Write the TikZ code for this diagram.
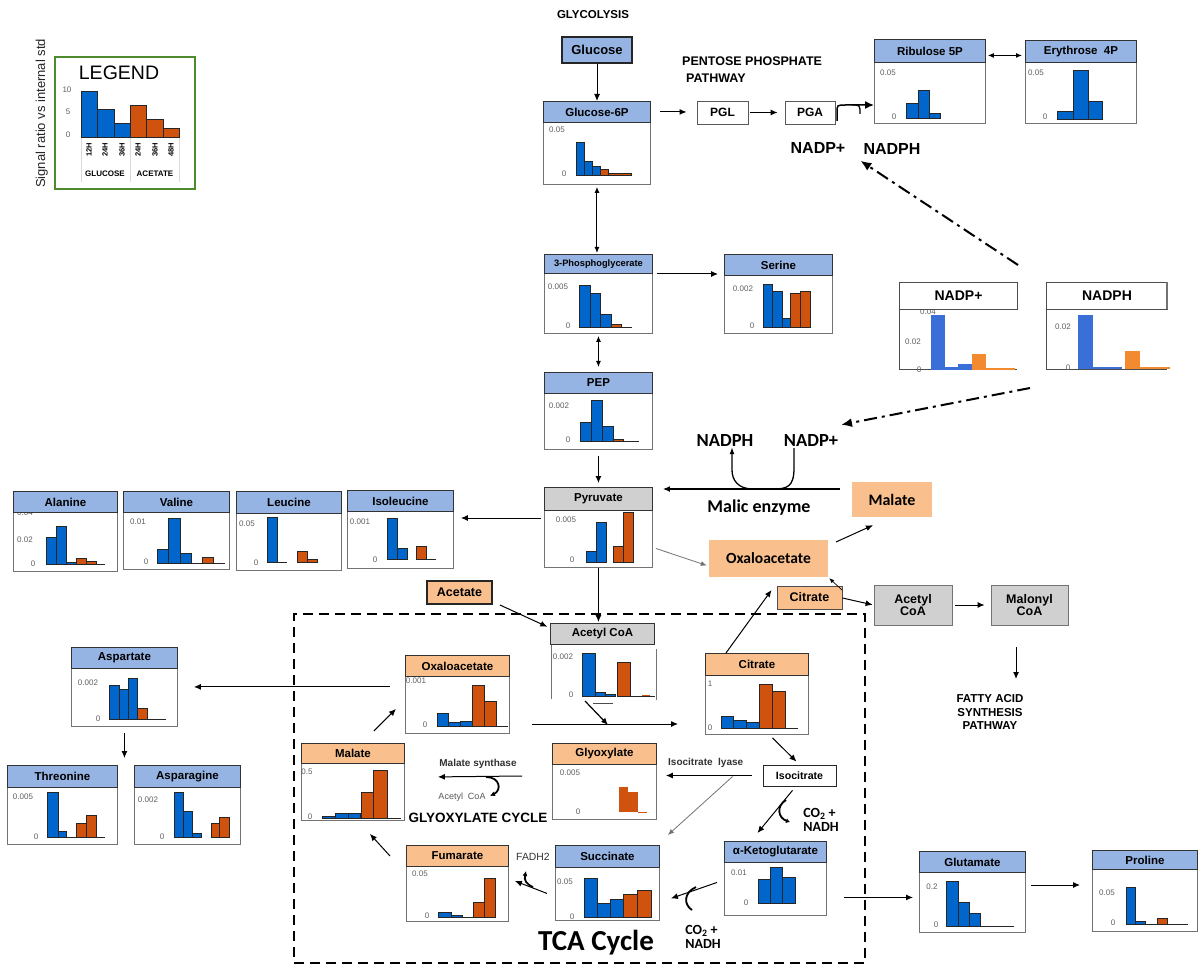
\documentclass[tikz,border=0pt]{standalone}
\usepackage{fontspec}
\setmainfont{Liberation Sans}
\newfontfamily\calfont{Carlito}
\usetikzlibrary{arrows.meta}
\definecolor{hblue}{HTML}{95B3E3}
\definecolor{horange}{HTML}{F9C08D}
\definecolor{hgray}{HTML}{D0D0D0}
\definecolor{barblue}{HTML}{0066CC}
\definecolor{barorange}{HTML}{D0520F}
\definecolor{lblue}{HTML}{3A6FD8}
\definecolor{lorange}{HTML}{F28A30}
\definecolor{tickgray}{HTML}{606060}
\definecolor{lgreen}{HTML}{4E8A2E}
\newcommand\fsz[1]{\fontsize{#1}{#1}\selectfont}
\tikzset{
 hdr/.style={draw=black!80, line width=0.9pt, inner sep=0pt, anchor=north west, font=\bfseries\fsz{11.5}},
 body/.style={draw=black!55, line width=0.9pt, fill=white, inner sep=0pt, anchor=north west},
 tick/.style={font=\fsz{8}, text=tickgray, inner sep=0pt},
 bbar/.style={fill=barblue, draw=black!85, line width=0.6pt},
 obar/.style={fill=barorange, draw=black!85, line width=0.6pt},
 flat/.style={draw=black!85, line width=0.8pt},
 arr/.style={-{Latex[length=7pt,width=6pt]}, line width=1pt},
 darr/.style={{Latex[length=6pt,width=5pt]}-{Latex[length=6pt,width=5pt]}, line width=1pt},
 garr/.style={-{Latex[length=6pt,width=5pt]}, line width=0.8pt, draw=black!55},
 plainbox/.style={inner sep=0pt, font=\bfseries\fsz{12.5}, align=center},
 dd/.style={line width=2pt, dash pattern=on 13pt off 5pt on 3pt off 5pt, -{Latex[length=11pt,width=9pt]}},
 hook/.style={line width=1.8pt}
}
\newcommand\cbox[8]{%
 \node[body, minimum width={#3-#2}, minimum height={#6-#5}] (#1) at (#2,#5) {};
 \node[hdr, fill=#7, minimum width={#3-#2}, minimum height={#5-#4}] (#1h) at (#2,#4) {#8};}
\newcommand\bB[4]{\filldraw[bbar] (#1,#4) rectangle (#2,#3);}
\newcommand\bO[4]{\filldraw[obar] (#1,#4) rectangle (#2,#3);}
\newcommand\bF[3]{\draw[flat] (#1,#3) -- (#2,#3);}
\newcommand\tk[3]{\node[tick] at (#1,#2) {#3};}
\begin{document}
\begin{tikzpicture}[x=1pt,y=-1pt]
\useasboundingbox (0,0) rectangle (1199,965);
\fill[white] (0,0) rectangle (1199,965);

% ---------------- Legend
\node[draw=lgreen, line width=1.6pt, minimum width=140, minimum height=132, anchor=north west, inner sep=0pt] (legend) at (54,56) {};
\node[font=\fsz{19.5}, inner sep=0pt] (legtitle) at (119,73) {LEGEND};
\node[rotate=90, anchor=base west, font=\fsz{13}, inner sep=0pt, text=black!85] (ylab) at (45,188) {Signal ratio vs internal std};
\tk{67}{90}{10} \tk{68}{112}{5} \tk{68}{135}{0}
\draw[black!15, line width=0.5pt] (81,137) -- (81,182) (130,137) -- (130,182) (179,137) -- (179,182);
\bB{81}{97}{91}{137} \bB{97}{114}{109}{137} \bB{114}{130}{123}{137}
\bO{130}{146}{105}{137} \bO{146}{163}{119}{137} \bO{163}{179}{128}{137}
\foreach \x/\t in {89/12H,105/24H,122/36H,138/24H,155/36H,171/48H}
  \node[rotate=90, font=\bfseries\fsz{7.5}, inner sep=0pt] at (\x,150) {\t};
\node[font=\bfseries\fsz{8}, inner sep=0pt] (lgglc) at (105,174) {GLUCOSE};
\node[font=\bfseries\fsz{8}, inner sep=0pt] (lgace) at (155,174) {ACETATE};

% ---------------- Glycolysis / PPP
\node[font=\bfseries\fsz{11.5}, inner sep=0pt] (glyc) at (593,15) {GLYCOLYSIS};
\node[draw=black!85, line width=1.6pt, fill=hblue, minimum width=70, minimum height=26, inner sep=0pt, font=\bfseries\fsz{13}] (glucose) at (597,50) {Glucose};
\node[font=\bfseries\fsz{12.5}, anchor=west, inner sep=0pt] (ppp1) at (682,61) {PENTOSE PHOSPHATE};
\node[font=\bfseries\fsz{12.5}, anchor=west, inner sep=0pt] (ppp2) at (686,78) {PATHWAY};
\node[draw=black!65, line width=0.9pt, minimum width=51, minimum height=23, inner sep=0pt, font=\bfseries\fsz{12}] (pgl) at (722.5,112.5) {PGL};
\node[draw=black!65, line width=0.9pt, minimum width=50, minimum height=23, inner sep=0pt, font=\bfseries\fsz{12}] (pga) at (810,112.5) {PGA};
\node[font=\bfseries\fsz{16}, inner sep=0pt] (nadpA) at (818,148) {NADP+};
\node[font=\bfseries\fsz{16}, inner sep=0pt] (nadphA) at (892,149) {NADPH};

\cbox{g6p}{543}{650}{101}{122}{184}{hblue}{Glucose-6P}
\tk{557}{130}{0.05} \tk{564}{174}{0}
\bB{576}{584}{142}{175} \bB{584}{592}{161}{175} \bB{592}{600}{166}{175} \bO{600}{608}{169}{175} \bO{608}{631}{173}{175}

\cbox{rib}{874}{985}{39}{62}{123}{hblue}{Ribulose 5P}
\tk{888}{73}{0.05} \tk{894}{117}{0}
\bB{906}{918}{103}{118} \bB{918}{929}{90}{118} \bB{929}{940}{113}{118}

\cbox{ery}{1025}{1136}{40}{62}{123}{hblue}{Erythrose\ \ 4P}
\tk{1036}{73}{0.05} \tk{1045}{117}{0}
\bB{1057}{1073}{111}{119} \bB{1073}{1088}{70}{119} \bB{1088}{1102}{101}{119}

\cbox{pgt}{544}{652}{254}{273}{333}{hblue}{\fsz{9.3}3-Phosphoglycerate}
\tk{558}{287}{0.005} \tk{568}{326}{0}
\bB{579}{590}{285}{327} \bB{590}{600}{293}{327} \bB{600}{611}{314}{327} \bO{611}{621}{324}{327} \bF{621}{632}{327}

\cbox{ser}{724}{832}{254}{275}{333}{hblue}{Serine}
\tk{743}{289}{0.002} \tk{752}{326}{0}
\bB{763}{772}{284}{327} \bB{772}{782}{291}{327} \bB{782}{790}{318}{327} \bO{790}{800}{293}{327} \bO{800}{810}{291}{327}

\cbox{pep}{544}{652}{372}{393}{449}{hblue}{PEP}
\tk{559}{406}{0.002} \tk{568}{440}{0}
\bB{580}{591}{422}{441} \bB{591}{602}{400}{441} \bB{602}{613}{426}{441} \bO{613}{623}{439}{441} \bF{623}{639}{441}

\cbox{pyr}{544}{652}{487}{510}{567}{hgray}{Pyruvate}
\tk{566}{520}{0.005} \tk{572}{560}{0}
\bB{586}{596}{551}{562} \bB{596}{606}{522}{562} \bO{613}{623}{546}{562} \bO{623}{633}{512}{562}

% ---------------- NADP boxes
\draw[black!70, line width=1pt] (899,309) -- (899,370) -- (1017,370);
\tk{928}{312}{0.04} \tk{913}{342}{0.02} \tk{919}{370}{0}
\fill[lblue] (931,370) rectangle (945,315);
\fill[lblue] (945,370) rectangle (958,367);
\fill[lblue] (958,370) rectangle (972,364);
\fill[lorange] (972,370) rectangle (986,354);
\fill[lorange] (986,370) rectangle (1015,368.5);
\node[draw=black!70, fill=white, line width=1pt, minimum width=118, minimum height=27, anchor=north west, inner sep=0pt, font=\bfseries\fsz{14}] (nadpB) at (899,282) {NADP+};
\draw[black!70, line width=1pt] (1046,309) -- (1046,370) -- (1167,370);
\tk{1063}{327}{0.02} \tk{1068}{368}{0}
\fill[lblue] (1078,369) rectangle (1093,315);
\fill[lblue] (1093,369) rectangle (1122,367.5);
\fill[lorange] (1125,369) rectangle (1140,351);
\fill[lorange] (1140,369) rectangle (1170,367.5);
\node[draw=black!70, fill=white, line width=1pt, minimum width=121, minimum height=27, anchor=north west, inner sep=0pt, font=\bfseries\fsz{14}] (nadphB) at (1046,282) {NADPH};
\draw[black!55, line width=2.2pt] (1167,282) -- (1167,309);

% ---------------- amino acids left
\cbox{ala}{13}{117}{491}{512}{571}{hblue}{Alanine}
\tk{25}{540}{0.02} \tk{33}{564}{0}
\bB{46}{56}{537}{564} \bB{56}{66}{526}{564} \bB{66}{76}{562}{564} \bO{76}{86}{558}{564} \bO{86}{96}{561}{564} \bF{96}{105}{564}
\node[tick, anchor=north] at (25,510) {0.04};
\node[hdr, fill=hblue, minimum width=104, minimum height=21] (alah) at (13,491) {Alanine};

\cbox{val}{123}{229}{491}{512}{569}{hblue}{Valine}
\tk{138}{522}{0.01} \tk{146}{562}{0}
\bB{157}{168}{549}{563} \bB{168}{180}{518}{563} \bB{180}{191}{553}{563} \bF{191}{202}{563} \bO{202}{213}{557}{563} \bF{213}{225}{563}

\cbox{leu}{236}{341}{491}{513}{570}{hblue}{Leucine}
\tk{247}{524}{0.05} \tk{256}{563}{0}
\bB{267}{277}{517}{562} \bF{277}{287}{562} \bO{297}{307}{551}{562} \bO{307}{317}{559}{562}

\cbox{ile}{347}{453}{490}{511}{568}{hblue}{Isoleucine}
\tk{360}{522}{0.001} \tk{375}{560}{0}
\bB{387}{397}{518}{559} \bB{397}{407}{548}{559} \bO{416}{426}{546}{559} \bF{426}{436}{559}

\cbox{asp}{71}{177}{647}{668}{726}{hblue}{Aspartate}
\tk{88}{683}{0.002} \tk{98}{719}{0}
\bB{109}{119}{685}{719} \bB{119}{128}{689}{719} \bB{128}{137}{678}{719} \bO{137}{147}{708}{719} \bF{147}{166}{719}

\cbox{thr}{7}{117}{765}{787}{844}{hblue}{Threonine}
\tk{23}{797}{0.005} \tk{36}{837}{0}
\bB{47}{58}{792}{837} \bB{58}{66}{831}{837} \bF{66}{76}{837} \bO{76}{86}{823}{837} \bO{86}{96}{815}{837} \bF{96}{105}{837}

\cbox{asn}{134}{240}{765}{787}{844}{hblue}{Asparagine}
\tk{148}{800}{0.002} \tk{162}{837}{0}
\bB{174}{183}{792}{837} \bB{183}{192}{811}{837} \bB{192}{201}{833}{837} \bO{211}{219}{823}{837} \bO{219}{229}{817}{837}

% ---------------- TCA region
\node[draw, line width=2pt, dash pattern=on 10pt off 6pt, minimum width=571, minimum height=349, anchor=north west, inner sep=0pt] (tcabox) at (293,613) {};

\node[plainbox, draw=black!85, line width=1.2pt, fill=horange, minimum width=65, minimum height=23] (acetate) at (459.5,592.5) {Acetate};

% Acetyl CoA (TCA)
\node[inner sep=0pt, minimum width=106, minimum height=56, anchor=north west] (acoa) at (550,644) {};
\draw[black!55, line width=0.9pt] (551,645) -- (551,699) (656,649) -- (656,700);
\tk{563}{657}{0.002} \tk{571}{695}{0}
\bB{582}{595}{653}{696} \bB{595}{605}{692}{696} \bB{605}{615}{694}{696} \bO{617}{630}{662}{696} \bF{630}{655}{696}
\fill[barorange] (642,694.5) rectangle (650,696);
\draw[black!70, line width=0.8pt] (593,703) -- (613,703);
\node[hdr, fill=hgray, minimum width=104, minimum height=21] (acoah) at (550,623) {Acetyl CoA};

\cbox{oaa}{405}{509}{655}{676}{733}{horange}{Oxaloacetate}
\tk{416}{681}{0.001} \tk{425}{725}{0}
\bB{437}{448}{713}{726} \bB{448}{460}{722}{726} \bB{460}{472}{721}{726} \bO{472}{484}{685}{726} \bO{484}{496}{701}{726} \bF{496}{508}{726}

\cbox{cit}{705}{808}{653}{675}{734}{horange}{Citrate}
\tk{710}{684}{1} \tk{710}{728}{0}
\bB{721}{733}{716}{728} \bB{733}{746}{720}{728} \bB{746}{759}{722}{728} \bO{759}{772}{684}{728} \bO{772}{785}{691}{728} \bF{785}{798}{728}

\cbox{mal}{301}{404}{743}{763}{820}{horange}{Malate}
\tk{307}{772}{0.5} \tk{310}{817}{0}
\bB{322}{335}{816}{818} \bB{335}{348}{813}{818} \bB{348}{360}{813}{818} \bO{361}{373}{792}{818} \bO{373}{387}{770}{818} \bF{387}{401}{818}

\cbox{gly}{552}{656}{743}{764}{819}{horange}{Glyoxylate}
\tk{570}{773}{0.005} \tk{578}{812}{0}
\fill[barorange] (619,812) rectangle (628,787);
\fill[barorange] (628,812) rectangle (638,792);
\draw[barorange, line width=0.8pt] (638,812) -- (647,812);

\cbox{fum}{406}{508}{845}{866}{921}{horange}{Fumarate}
\tk{420}{874}{0.05} \tk{427}{916}{0}
\bB{438}{451}{912}{917} \bB{451}{462}{915}{917} \bF{462}{473}{917} \bO{473}{484}{902}{917} \bO{484}{495}{878}{917}

\cbox{suc}{555}{659}{845}{867}{920}{hblue}{Succinate}
\tk{565}{882}{0.05} \tk{572}{917}{0}
\bB{584}{597}{878}{917} \bB{597}{610}{903}{917} \bB{610}{623}{899}{917} \bO{623}{637}{894}{917} \bO{637}{651}{890}{917}

\cbox{akg}{724}{826}{841}{862}{915}{hblue}{α-Ketoglutarate}
\tk{739}{873}{0.01} \tk{746}{903}{0}
\bB{758}{770}{879}{903} \bB{770}{782}{867}{903} \bB{782}{795}{877}{903}

\cbox{glu}{919}{1025}{851}{872}{932}{hblue}{Glutamate}
\tk{932}{887}{0.2} \tk{936}{925}{0}
\bB{946}{958}{881}{926} \bB{958}{969}{902}{926} \bB{969}{980}{913}{926} \bF{980}{1014}{926}

\cbox{pro}{1092}{1197}{850}{869}{931}{hblue}{Proline}
\tk{1107}{893}{0.05} \tk{1113}{923}{0}
\bB{1126}{1135}{887}{924} \bB{1135}{1145}{921}{924} \bF{1145}{1157}{924} \bO{1157}{1167}{918}{924} \bF{1167}{1188}{924}

\node[draw=black!85, line width=0.8pt, minimum width=73, minimum height=21, inner sep=0pt, font=\bfseries\fsz{10.6}] (isocit) at (799.5,775.5) {Isocitrate};

% ---------------- right side boxes
\node[fill=horange, minimum width=80, minimum height=35, inner sep=0pt, font=\calfont\bfseries\fsz{16}] (malateB) at (892,499.5) {Malate};
\node[fill=horange, minimum width=119, minimum height=37, inner sep=0pt, font=\calfont\bfseries\fsz{15.5}] (oaaB) at (768.5,558.5) {Oxaloacetate};
\node[plainbox, draw=black!70, line width=0.9pt, fill=horange, minimum width=65, minimum height=23] (citS) at (809.5,597.5) {Citrate};
\node[plainbox, draw=black!55, line width=0.9pt, fill=hgray, minimum width=78, minimum height=40] (acoaB) at (913,605) {Acetyl\\CoA};
\node[plainbox, draw=black!55, line width=0.9pt, fill=hgray, minimum width=77, minimum height=40] (malcoa) at (1029.5,605) {Malonyl\\CoA};
\node[font=\bfseries\fsz{11.5}, align=center, inner sep=0pt] (fatty) at (990,712) {FATTY ACID\\[2pt]SYNTHESIS\\[2pt]PATHWAY};

% ---------------- text labels
\node[font=\calfont\bfseries\fsz{18.5}, inner sep=0pt] (nadphC) at (725,441) {NADPH};
\node[font=\calfont\bfseries\fsz{18.5}, inner sep=0pt] (nadpC) at (811,441) {NADP+};
\node[font=\calfont\bfseries\fsz{18}, inner sep=0pt] (malic) at (759,508) {Malic enzyme};
\node[font=\calfont\bfseries\fsz{29}, inner sep=0pt] (tcalbl) at (596,943) {TCA Cycle};
\node[font=\bfseries\fsz{13.5}, inner sep=0pt] (glyoxlbl) at (478,818) {GLYOXYLATE CYCLE};
\node[font=\bfseries\fsz{10}, inner sep=0pt, text=black!80] (msyn) at (478,764) {Malate synthase};
\node[font=\fsz{9}, inner sep=0pt, text=black!65] (acoaL) at (462,797) {Acetyl\ \ CoA};
\node[font=\bfseries\fsz{10}, inner sep=0pt, text=black!80, anchor=west] (icl) at (668,763) {Isocitrate\ \ lyase};
\node[font=\fsz{10.4}, inner sep=0pt, text=black!80] (fadh) at (533,857) {FADH2};
\node[font=\calfont\bfseries\fsz{14}, inner sep=0pt, align=left] (co2a) at (821,820) {CO\textsubscript{2} +\\NADH};
\node[font=\calfont\bfseries\fsz{14}, inner sep=0pt, align=left] (co2b) at (703,937) {CO\textsubscript{2} +\\NADH};

% ---------------- named free ends
\coordinate (pgaR) at (837,121);
\coordinate (ddA) at (1018,265);
\coordinate (ddB) at (1030,388);
\coordinate (cofS) at (794,448);
\coordinate (oaaNE) at (836,542);
\coordinate (citSN) at (842,590);
\coordinate (fa1) at (1016,647);
\coordinate (fa2) at (1016,679);
\coordinate (acoaDL) at (585,701);
\coordinate (acoaDR) at (608,725);
\coordinate (longL) at (532,724);
\coordinate (longR) at (678,724);
\coordinate (msR) at (522,776);

% ---------------- connectors
\draw[arr] (glucose.south) -- (glucose.south |- g6ph.north);
\draw[arr, shorten <=9pt, shorten >=10pt] (g6ph.east) -- (g6ph.east -| pgl.west);
\draw[arr, shorten <=2pt, shorten >=7pt] (pgl.east) -- (pga.west);
\draw[line width=1.5pt, -{Latex[length=9pt,width=8pt]}] (pgaR) -- (837,112) .. controls (837,105) .. (846,105) -- (rib.west |- 846,105);
\draw[line width=1.3pt] (852,105) .. controls (860,105) .. (860,114);
\draw[darr, shorten <=2pt, shorten >=3pt] ([yshift=-4.5pt]ribh.east) -- ([yshift=-4.5pt]ribh.east -| eryh.west);
\draw[darr, shorten <=2pt, shorten >=1pt] (g6p.south) -- (g6p.south |- pgth.north);
\draw[arr, shorten <=4pt, shorten >=6pt] ([yshift=-1pt]pgt.north east) -- ([yshift=-1pt]pgt.north east -| ser.west);
\draw[darr, shorten <=2pt, shorten >=5pt] (pgt.south) -- (pgt.south |- peph.north);
\draw[arr, shorten <=6pt, shorten >=4pt] (pep.south) -- (pep.south |- pyrh.north);
\draw[arr, shorten <=3pt, shorten >=7pt] ([yshift=-8pt]pyr.north west) -- ([yshift=-8pt]pyr.north west -| ileh.east);

% NADP dash-dot
\draw[dd] (ddA) -- ([xshift=-3pt,yshift=-6pt]nadphA.south west);
\draw[dd] (ddB) -- ([xshift=30pt,yshift=10pt]nadpC.north);

% malic enzyme
\draw[arr, line width=1.4pt, shorten <=12pt, shorten >=10pt] ([yshift=10.5pt]malateB.west) -- ([yshift=10.5pt]malateB.west -| pyrh.east);
\draw[line width=1.3pt, -{Latex[length=7pt,width=5pt]}] (cofS) -- (794,468) .. controls (794,487) and (787,489) .. (773,489) -- (753,489) .. controls (738,489) and (732,480) .. (732,470) -- (nadphC.south -| 732,0);

\draw[arr] (oaaNE) -- ([xshift=-19pt,yshift=-8pt]malateB.south);
\draw[garr] ([xshift=3pt,yshift=-9.5pt]pyr.east) -- ([xshift=-2pt,yshift=-7pt]oaaB.west);
\draw[-{Latex[length=5pt,width=4pt]}, line width=0.7pt] (citSN) -- ([xshift=1pt,yshift=-1pt]oaaB.south east);
\draw[arr] ([xshift=-31pt]cith.north) -- ([xshift=-5pt,yshift=7.5pt]citS.west);
\draw[arr, shorten >=1pt] ([yshift=-0.5pt]citS.east) -- (acoaB.west);
\draw[arr, shorten <=3pt, shorten >=6pt] (acoaB.east) -- (malcoa.west);
\draw[arr] (fa1) -- (fa2);

% TCA connectors
\draw[arr, shorten <=8pt, shorten >=3pt] ([yshift=3pt]acetate.south east) -- ([yshift=-5pt]acoah.north west);
\draw[arr, shorten >=1pt] (pyr.south) -- (pyr.south |- acoah.north);
\draw[arr, line width=1.2pt] (acoaDL) -- (acoaDR);
\draw[arr] (longL) -- (longR);
\draw[arr, shorten <=15pt, shorten >=16pt] ([yshift=-10pt]oaah.south west) -- ([yshift=-10pt]oaah.south west -| asp.east);
\draw[arr] ([xshift=-31pt,yshift=12pt]malh.north east) -- ([xshift=-9pt,yshift=25pt]oaa.south west);
\draw[arr] ([xshift=15.5pt,yshift=-3pt]cit.south) -- ([xshift=-3pt,yshift=3pt]isocit.north);
\draw[arr] ([xshift=-11pt]isocit.west) -- ([xshift=9pt]isocit.west -| glyh.east);
\draw[garr] ([xshift=-30pt,yshift=-1pt]isocit.west) -- ([xshift=8pt,yshift=10pt]such.north east);
\draw[arr] ([xshift=-7pt,yshift=-4pt]isocit.south) -- ([xshift=-18pt,yshift=8pt]akgh.north);
\draw[hook, -{Latex[length=4pt,width=5pt]}] (786,800) .. controls (776,806) and (778,818) .. (790,822);
\draw[arr] ([xshift=17pt,yshift=-8.5pt]akg.east) -- ([xshift=-6pt,yshift=-8.5pt]akg.east -| glu.west);
\draw[arr] ([xshift=5pt,yshift=-13pt]glu.north east) -- ([xshift=-12pt,yshift=-13pt]glu.north east -| pro.west);
\draw[arr] ([xshift=-7pt,yshift=6.5pt]akg.west) -- ([xshift=11pt,yshift=-4.5pt]suc.east);
\draw[hook] (696,887) .. controls (683,893) and (684,905) .. (692,910);
\draw[arr] ([xshift=-8pt,yshift=0.5pt]suc.west) -- ([xshift=6pt,yshift=-15pt]fum.north east);
\draw[hook, -{Latex[length=5pt,width=5pt]}] (533,887) .. controls (526,884) and (524,880) .. (526,871);
\draw[arr] ([xshift=-16pt,yshift=-11pt]fumh.north west) -- ([xshift=-35pt,yshift=-13pt]mal.south east);
\draw[arr] (msR) -- ([xshift=33pt,yshift=-13pt]malh.south east);
\draw[hook, -{Latex[length=5pt,width=5pt]}] (486,777) .. controls (500,777) and (502,790) .. (490,796);
\draw[arr, shorten <=7pt, shorten >=7pt] (asp.south |- 0,726) -- (asp.south |- thrh.north);
\end{tikzpicture}
\end{document}
